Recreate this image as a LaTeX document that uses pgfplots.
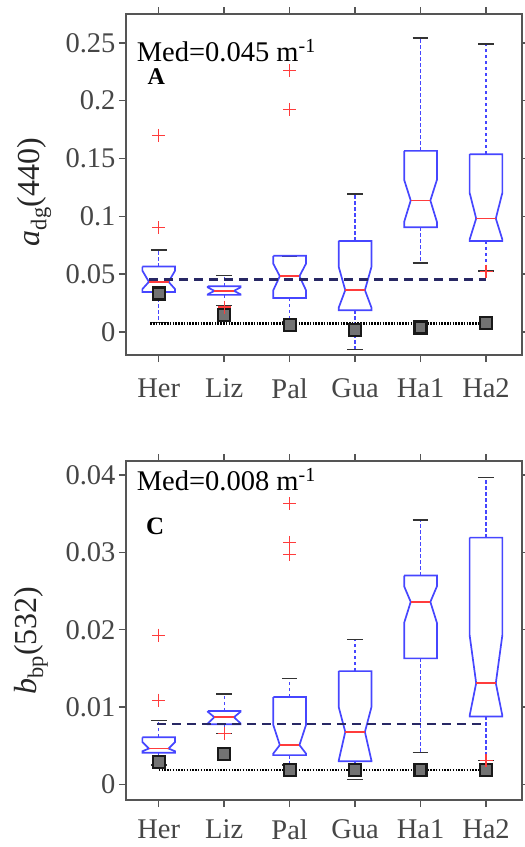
\documentclass[border=0pt]{standalone}
\usepackage{pgfplots}
\pgfplotsset{compat=1.18}
\usepackage{fontspec}
\setmainfont{Liberation Serif}
\definecolor{boxblue}{RGB}{70,70,255}
\definecolor{medred}{RGB}{255,60,60}
\definecolor{navy}{RGB}{40,40,100}
\definecolor{axgray}{RGB}{85,85,85}
\definecolor{tickgray}{RGB}{70,70,70}
\pgfplotsset{
  whisk/.style={boxblue, line width=1.3pt, dash pattern=on 3.5pt off 2.5pt},
  capst/.style={black!80, line width=1.4pt},
  boxst/.style={boxblue, line width=1.7pt},
  medst/.style={medred, line width=1.7pt},
  outl/.style={only marks, mark=+, mark size=6.5pt, medred, mark options={line width=1.3pt}},
  sq/.style={only marks, mark=square*, mark size=6pt, mark options={fill=black!55, draw=black!90, line width=2.2pt}},
  mataxis/.style={
    scale only axis, width=396pt,
    xmin=0.5, xmax=6.55,
    xtick={1,2,3,4,5,6},
    xticklabels={Her,Liz,Pal,Gua,Ha1,Ha2},
    tick align=outside, tick pos=both,
    major tick length=7pt,
    every tick/.style={axgray, line width=1.4pt},
    axis line style={axgray, line width=1.8pt},
    tick label style={font=\fontsize{28.5}{32}\selectfont, text=tickgray},
    scaled ticks=false,
    clip=false,
  },
}
\newcommand{\nbox}[8]{%
\pgfmathsetmacro\xa{#1-0.25}\pgfmathsetmacro\xb{#1+0.25}%
\pgfmathsetmacro\xc{#1-0.15}\pgfmathsetmacro\xd{#1+0.15}%
\pgfmathsetmacro\ca{#1-0.12}\pgfmathsetmacro\cb{#1+0.12}%
\addplot[whisk] coordinates {(#1,#7) (#1,#8)};
\addplot[whisk] coordinates {(#1,#3) (#1,#2)};
\addplot[capst] coordinates {(\ca,#8) (\cb,#8)};
\addplot[capst] coordinates {(\ca,#2) (\cb,#2)};
\addplot[boxst] coordinates {(\xa,#7) (\xb,#7) (\xb,#6) (\xd,#5) (\xb,#4) (\xb,#3) (\xa,#3) (\xa,#4) (\xc,#5) (\xa,#6) (\xa,#7)};
\addplot[medst] coordinates {(\xc,#5) (\xd,#5)};
}
\begin{document}
\begin{tikzpicture}
\useasboundingbox (0,0) rectangle (525pt,-847pt);
% ---------------- Panel A ----------------
\begin{axis}[mataxis,
  at={(126pt,-355pt)}, anchor=south west, height=341pt,
  xticklabel style={yshift=-13pt},
  ymin=-0.02, ymax=0.275,
  ytick={0,0.05,0.1,0.15,0.2,0.25},
  yticklabels={0,0.05,0.1,0.15,0.2,0.25},
  ylabel={\textit{a}\textsubscript{dg}(440)},
  ylabel style={at={(axis description cs:-0.232,0.478)}, anchor=center, font=\fontsize{32}{34}\selectfont, text=black!85},
]
% x, wlo, q1, nlo, med, nhi, q3, whi
\nbox{1}{0.008}{0.0345}{0.037}{0.0433}{0.053}{0.0565}{0.0707}
\nbox{2}{0.023}{0.032}{0.0325}{0.0355}{0.0385}{0.0395}{0.049}
\nbox{3}{0.009}{0.0294}{0.036}{0.0482}{0.059}{0.0658}{0.0658}
\nbox{4}{-0.0152}{0.0188}{0.021}{0.0361}{0.0562}{0.0787}{0.1194}
\nbox{5}{0.0597}{0.0906}{0.0952}{0.1137}{0.1315}{0.1566}{0.2543}
\nbox{6}{0.0528}{0.0787}{0.0799}{0.0981}{0.1203}{0.1537}{0.2491}
\addplot[navy, line width=2.6pt, dash pattern=on 9pt off 6pt] coordinates {(0.85,0.0455) (6,0.0455)};
\addplot[black, line width=2.2pt, dash pattern=on 1.5pt off 1.3pt] coordinates {(0.87,0.0073) (6.05,0.0073)};
\addplot[sq] coordinates {(1,0.0332) (2,0.0144) (3,0.0058) (4,0.0015) (5,0.0038) (6,0.0078)};
\addplot[outl] coordinates {(1,0.170) (1,0.0903) (2,0.0215) (3,0.226) (3,0.1926) (6,0.0525)};
\node[anchor=base west, inner sep=0pt, font=\fontsize{28.5}{30}\selectfont] at (rel axis cs:0.027,0.862) {Med=0.045 m\textsuperscript{-1}};
\node[anchor=base west, inner sep=0pt, font=\fontsize{24}{26}\selectfont\bfseries] at (rel axis cs:0.054,0.792) {A};
\end{axis}
% ---------------- Panel C ----------------
\begin{axis}[mataxis,
  at={(126pt,-800pt)}, anchor=south west, height=339pt,
  xticklabel style={yshift=-9pt},
  ymin=-0.002, ymax=0.0418,
  ytick={0,0.01,0.02,0.03,0.04},
  yticklabels={0,0.01,0.02,0.03,0.04},
  ylabel={\textit{b}\textsubscript{bp}(532)},
  ylabel style={at={(axis description cs:-0.24,0.47)}, anchor=center, font=\fontsize{32}{34}\selectfont, text=black!85},
]
\nbox{1}{0.0025}{0.0041}{0.0043}{0.00465}{0.0055}{0.0061}{0.0083}
\nbox{2}{0.0066}{0.0078}{0.0079}{0.0087}{0.0094}{0.0095}{0.0117}
\nbox{3}{0.0025}{0.0038}{0.0040}{0.0051}{0.0077}{0.0113}{0.0137}
\nbox{4}{0.00065}{0.0030}{0.0031}{0.0068}{0.0100}{0.01465}{0.01875}
\nbox{5}{0.0041}{0.0163}{0.0209}{0.0236}{0.0256}{0.0270}{0.0342}
\nbox{6}{0.0031}{0.0088}{0.0089}{0.0131}{0.0193}{0.0319}{0.0397}
\addplot[navy, line width=2.6pt, dash pattern=on 9pt off 6pt] coordinates {(0.97,0.0078) (6,0.0078)};
\addplot[black, line width=2.2pt, dash pattern=on 1.5pt off 1.3pt] coordinates {(1,0.0019) (6.05,0.0019)};
\addplot[sq] coordinates {(1,0.0029) (2,0.0039) (3,0.00185) (4,0.0019) (5,0.00185) (6,0.0019)};
\addplot[outl] coordinates {(1,0.0193) (1,0.0109) (2,0.0066) (3,0.0363) (3,0.0313) (3,0.0297) (6,0.0031)};
\node[anchor=base west, inner sep=0pt, font=\fontsize{28.5}{30}\selectfont] at (rel axis cs:0.027,0.912) {Med=0.008 m\textsuperscript{-1}};
\node[anchor=base west, inner sep=0pt, font=\fontsize{25}{27}\selectfont\bfseries] at (rel axis cs:0.05,0.782) {C};
\end{axis}
\end{tikzpicture}
\end{document}
